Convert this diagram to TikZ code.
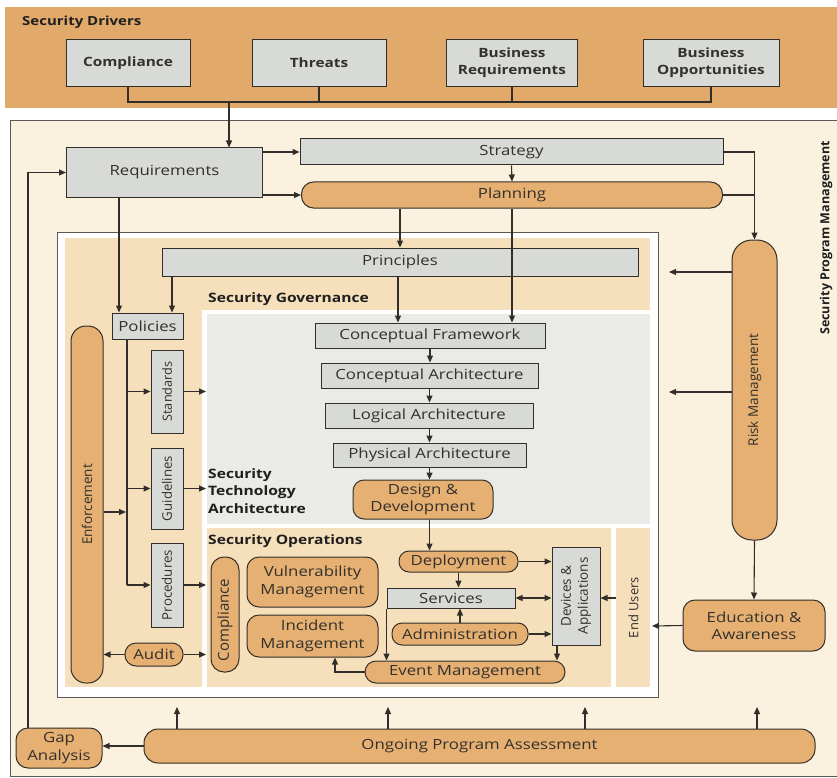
\documentclass[tikz,border=0pt]{standalone}
\usepackage{fontspec}
\setmainfont{Open Sans}[FakeStretch=1.2]
\newfontfamily\vfont{Open Sans}
\usetikzlibrary{arrows.meta}

\definecolor{bandorange}{RGB}{226,170,106}
\definecolor{nodeorange}{RGB}{229,176,114}
\definecolor{outerbeige}{RGB}{250,241,222}
\definecolor{govbeige}{RGB}{246,224,188}
\definecolor{techgrey}{RGB}{234,235,231}
\definecolor{boxgrey}{RGB}{216,218,215}
\definecolor{inkline}{RGB}{50,46,42}
\definecolor{inktext}{RGB}{52,48,44}

\begin{document}
\begin{tikzpicture}[x=1pt,y=-1pt,
  every node/.style={inner sep=0pt, text=inktext},
  txt/.style={font=\fontsize{14}{17.5}\selectfont},
  greybox/.style={draw=inkline, fill=boxgrey, line width=1pt, align=center, txt},
  obox/.style={draw=inkline, fill=nodeorange, line width=1pt, align=center, txt, rounded corners=#1},
  obox/.default=10pt,
  driverbox/.style={draw=inkline, fill=boxgrey, line width=1pt, align=center,
    font=\fontsize{12.8}{17}\selectfont\bfseries, minimum height=47},
  vlabel/.style={rotate=90, align=center, font=\vfont\fontsize{13.5}{16}\selectfont},
  region/.style={anchor=west, align=left, text=black!88,
    font=\fontsize{13}{17.5}\selectfont\bfseries},
  ln/.style={line width=1.1pt, draw=inkline},
  arr/.style={ln, -{Triangle[length=7pt,width=6pt]}},
  arrtwo/.style={ln, {Triangle[length=7pt,width=6pt]}-{Triangle[length=7pt,width=6pt]}},
]
\useasboundingbox (0,0) rectangle (837,778);
\clip (0,0) rectangle (837,778);
\fill[white] (0,0) rectangle (837,778);

% ---------- security drivers band ----------
\fill[bandorange] (5,7) rectangle (837,108);
\node[region, font=\fontsize{12.5}{15}\selectfont\bfseries] (drv) at (22,22) {Security Drivers};
\node[driverbox, minimum width=124] (dcomp) at (128,63) {Compliance};
\node[driverbox, minimum width=134] (dthr) at (319,63) {Threats};
\node[driverbox, minimum width=131] (dbr) at (512,63) {Business\\Requirements};
\node[driverbox, minimum width=136] (dbo) at (711,63) {Business\\Opportunities};

% ---------- program management frame ----------
\filldraw[fill=outerbeige, draw=inkline!80, line width=1pt] (10,121) rectangle (870,776);
\node[rotate=90, font=\vfont\fontsize{12.5}{14}\selectfont\bfseries, text=black!88] (spm) at (826,238) {Security Program Management};

% inner architecture frame and its regions
\filldraw[fill=white, draw=inkline!80, line width=0.9pt] (57,232) rectangle (658,697);
\fill[govbeige] (65,238) rectangle (650,687);
\fill[white] (202,310) rectangle (650,687);
\fill[techgrey] (207,314) rectangle (650,524);
\fill[govbeige] (207,528) rectangle (611,687);
\fill[govbeige] (616,528) rectangle (650,687);

% ---------- upper program nodes ----------
\node[greybox, minimum width=196, minimum height=49] (req) at (164.5,172.5) {Requirements};
\node[greybox, minimum width=423, minimum height=26] (strat) at (511.5,152) {Strategy};
\node[obox=12pt, minimum width=421, minimum height=26] (plan) at (512,195) {Planning};
\node[obox=20pt, minimum width=45, minimum height=300] (risk) at (754.5,390) {};
\node[vlabel] at (risk) {Risk Management};
\node[obox=12pt, minimum width=142, minimum height=51] (edu) at (754,625.5) {Education \&\\Awareness};

% ---------- governance ----------
\node[greybox, minimum width=476, minimum height=28] (prin) at (400,262) {Principles};
\node[region] (govlbl) at (208,299) {Security Governance};
\node[greybox, minimum width=71, minimum height=26] (pol) at (147.5,326) {Policies};
\node[greybox, minimum width=32, minimum height=83] (std) at (167,391.5) {};
\node[vlabel, font=\vfont\fontsize{12.7}{15}\selectfont] at (std) {Standards};
\node[greybox, minimum width=32, minimum height=81] (gui) at (167,488.5) {};
\node[vlabel, font=\vfont\fontsize{13.2}{15}\selectfont] at (gui) {Guidelines};
\node[greybox, minimum width=32, minimum height=84] (proc) at (167,585) {};
\node[vlabel, font=\vfont\fontsize{13.3}{15}\selectfont] at (proc) {Procedures};
\node[obox=15pt, minimum width=32, minimum height=357] (enf) at (87,504.5) {};
\node[vlabel] at (enf) {Enforcement};
\node[obox=11pt, minimum width=58, minimum height=23] (audit) at (154,654.5) {Audit};

% ---------- technology architecture ----------
\node[region] (techlbl) at (208,491) {Security\\Technology\\Architecture};
\node[greybox, minimum width=230, minimum height=25] (cf) at (430,335.5) {Conceptual Framework};
\node[greybox, minimum width=217, minimum height=25] (ca) at (429.5,375.5) {Conceptual Architecture};
\node[greybox, minimum width=208, minimum height=25] (la) at (429,415.5) {Logical Architecture};
\node[greybox, minimum width=193, minimum height=24] (pa) at (429.5,455) {Physical Architecture};
\node[obox=11pt, minimum width=140, minimum height=39] (dd) at (423,499.5) {Design \&\\Development};

% ---------- operations ----------
\node[region] (opslbl) at (208,541) {Security Operations};
\node[obox=13pt, minimum width=28, minimum height=115] (comp) at (225,614.5) {};
\node[vlabel, font=\vfont\fontsize{15}{17}\selectfont] at (225,620) {Compliance};
\node[obox=12pt, minimum width=131, minimum height=50] (vm) at (312.5,582) {Vulnerability\\Management};
\node[obox=12pt, minimum width=131, minimum height=42] (im) at (312.5,636) {Incident\\Management};
\node[obox=10pt, minimum width=119, minimum height=21] (dep) at (458.5,561.5) {Deployment};
\node[greybox, minimum width=128, minimum height=20] (svc) at (451,598) {Services};
\node[obox=10pt, minimum width=136, minimum height=22] (adm) at (460,634) {Administration};
\node[obox=11pt, minimum width=200, minimum height=22] (evt) at (465,672) {Event Management};
\node[greybox, minimum width=48, minimum height=98] (dev) at (576,596) {};
\node[vlabel, font=\vfont\fontsize{13.5}{17}\selectfont] at (dev) {Devices \&\\Applications};
\node[vlabel, font=\vfont\fontsize{13}{15}\selectfont] (eu) at (633.5,607.5) {End Users};

% ---------- assessment ----------
\node[obox=14pt, minimum width=671, minimum height=34] (ong) at (479.5,746) {Ongoing Program Assessment};
\node[obox=12pt, minimum width=86, minimum height=40] (gap) at (59,748) {Gap\\Analysis};

% ---------- helper coordinates ----------
\coordinate (dj) at (229,102);
\coordinate (xreq) at (119,0);
\coordinate (xprin) at (172,0);
\coordinate (xpcf) at (398,0);
\coordinate (xpol) at (127,0);
\coordinate (xgap) at (28,0);
\coordinate (ximx) at (335,0);
\coordinate (xdev) at (557,0);
\coordinate (rgA) at (669,272);
\coordinate (rgB) at (669,392);
\coordinate (sttip) at (206,391.5);
\coordinate (gutip) at (206,488.5);
\coordinate (prtip) at (206,585);
\coordinate (audtip) at (206,654.5);
\coordinate (eusrc) at (616,598);
\coordinate (edutip) at (652,626);
\coordinate (enftip) at (126,512);
\coordinate (ua1) at (177,707);
\coordinate (ua2) at (388,707);
\coordinate (ua3) at (585,707);
\coordinate (ua4) at (757,707);

% ---------- connectors: drivers ----------
\draw[ln] (dcomp.south) |- (dj) -| (dbo.south);
\draw[ln] (dthr.south) -- (dthr.south |- dj);
\draw[ln] (dbr.south) -- (dbr.south |- dj);
\draw[arr] (dj) -- (req.north -| dj);

% ---------- connectors: program ----------
\draw[arr] (req.north east |- strat.west) -- (strat.west);
\draw[arr] (req.east |- plan.west) -- (plan.west);
\draw[arr] (strat.south) -- (plan.north);
\draw[arr] (strat.east) -| (risk.north);
\draw[ln] (plan.east) -- (plan.east -| risk.north);
\draw[arr] (plan.south -| prin.north) -- (prin.north);
\draw[arr] (plan.south) -- (plan.south |- cf.north);
\draw[arr] (risk.west |- rgA) -- (rgA);
\draw[arr] (risk.west |- rgB) -- (rgB);
\draw[arr] (risk.south) -- (edu.north);
\draw[arr] (edu.west) -- (edutip);
\draw[arr] (gap.north -| xgap) |- (req.west);

% ---------- connectors: governance ----------
\draw[arr] (req.south -| xreq) -- (pol.north -| xreq);
\draw[arr] (prin.south -| xprin) -- (pol.north -| xprin);
\draw[arr] (prin.south -| xpcf) -- (cf.north -| xpcf);
\draw[ln] (pol.south -| xpol) -- (proc.west -| xpol);
\draw[arr] (std.west -| xpol) -- (std.west);
\draw[arr] (gui.west -| xpol) -- (gui.west);
\draw[arr] (proc.west -| xpol) -- (proc.west);
\draw[arr] (std.east) -- (sttip);
\draw[arr] (gui.east) -- (gutip);
\draw[arr] (proc.east) -- (prtip);
\draw[arr] (enf.east |- enftip) -- (enftip);
\draw[arr] (audit.west) -- (audit.west -| enf.east);
\draw[arr] (audit.east) -- (audtip);

% ---------- connectors: technology architecture ----------
\draw[arr] (cf.south) -- (cf.south |- ca.north);
\draw[arr] (ca.south) -- (ca.south |- la.north);
\draw[arr] (pa.north |- la.south) -- (pa.north);
\draw[arr] (pa.south) -- (pa.south |- dd.north);
\draw[arr] (dd.south -| pa.south) -- (dep.north -| pa.south);

% ---------- connectors: operations ----------
\draw[arr] (dep.south) -- (dep.south |- svc.north);
\draw[arr] (adm.north) -- (adm.north |- svc.south);
\draw[arr] (dep.east) -- (dep.east -| dev.west);
\draw[arrtwo] (svc.east) -- (svc.east -| dev.west);
\draw[arr] (adm.east) -- (adm.east -| dev.west);
\draw[arr] (dev.south -| xdev) -- (evt.north -| xdev);
\draw[arr] (svc.south west) -- (svc.south west |- evt.north);
\draw[arr] (evt.west) -| (im.south -| ximx);
\draw[arr] (eusrc) -- (eusrc -| dev.east);

% ---------- connectors: assessment ----------
\draw[arr] (ong.west) -- (ong.west -| gap.east);
\foreach \u in {ua1,ua2,ua3,ua4} \draw[arr] (\u |- ong.north) -- (\u);
\end{tikzpicture}
\end{document}
